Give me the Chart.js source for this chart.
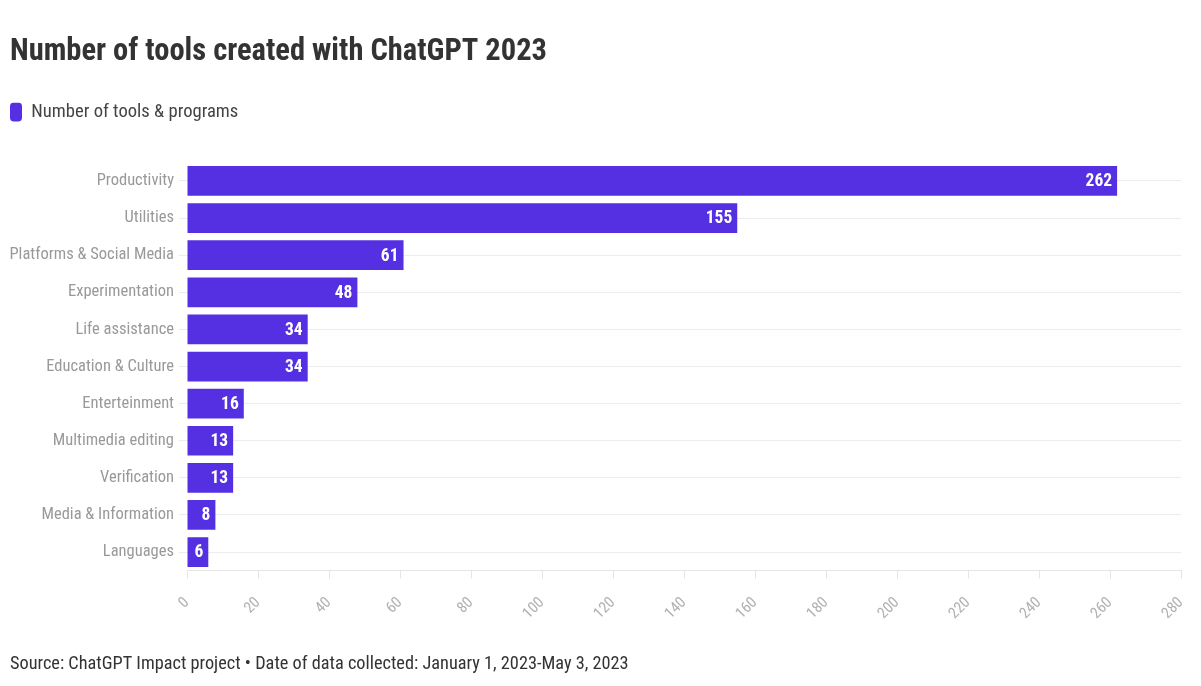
<!DOCTYPE html>
<html>
<head>
<meta charset="utf-8">
<script src="https://cdn.jsdelivr.net/npm/chart.js@4.4.0/dist/chart.umd.min.js"></script>
<style>
  html, body { margin: 0; padding: 0; background: #fff; }
  #wrap { position: relative; width: 1201px; height: 686px; }
</style>
</head>
<body>
<div id="wrap"><canvas id="toolsChart" width="1201" height="686"></canvas></div>
<script>
const categories = [
    'Productivity', 'Utilities', 'Platforms & Social Media', 'Experimentation',
    'Life assistance', 'Education & Culture', 'Enterteinment', 'Multimedia editing',
    'Verification', 'Media & Information', 'Languages'
];
const toolCounts = [262, 155, 61, 48, 34, 34, 16, 13, 13, 8, 6];
const seriesName = 'Number of tools & programs';
const xTicks = [0, 20, 40, 60, 80, 100, 120, 140, 160, 180, 200, 220, 240, 260, 280];

const FONT = '"Roboto Condensed", "Liberation Sans", sans-serif';
const barColor = '#5530e3';

// white value labels at the end of each bar
const valueLabels = {
    id: 'valueLabels',
    afterDatasetsDraw(chart) {
        const ctx = chart.ctx;
        const meta = chart.getDatasetMeta(0);
        ctx.save();
        ctx.font = 'bold 17.5px ' + FONT;
        ctx.fillStyle = '#ffffff';
        ctx.textAlign = 'right';
        ctx.textBaseline = 'middle';
        meta.data.forEach((bar, i) => {
            ctx.fillText(String(toolCounts[i]), bar.x - 5, bar.y + 1);
        });
        ctx.restore();
    }
};

// extra room between the legend and the plot (labels.padding would also shift it right)
const legendGap = {
    id: 'legendGap',
    beforeUpdate(chart) {
        const lg = chart.legend;
        if (lg && !lg._gapPatched) {
            const fit = lg.fit.bind(lg);
            lg.fit = function () {
                fit();
                this.height += 31;
            };
            lg._gapPatched = true;
        }
    }
};

const ctx = document.getElementById('toolsChart');

new Chart(ctx, {
    type: 'bar',
    data: {
        labels: categories,
        datasets: [{
            label: seriesName,
            data: toolCounts,
            backgroundColor: barColor,
            borderWidth: 0,
            categoryPercentage: 0.9,
            barPercentage: 0.89
        }]
    },
    options: {
        indexAxis: 'y',
        responsive: false,
        animation: false,
        layout: {
            padding: { left: 10, right: 20, top: 0, bottom: 0 }
        },
        plugins: {
            title: {
                display: true,
                text: 'Number of tools created with ChatGPT 2023',
                align: 'start',
                color: '#333333',
                font: { family: FONT, size: 30.5, weight: 'bold', lineHeight: 0.8 },
                padding: { top: 40, bottom: 38 }
            },
            legend: {
                display: true,
                align: 'start',
                labels: {
                    color: '#444444',
                    font: { family: FONT, size: 18.6 },
                    boxWidth: 12,
                    boxHeight: 19,
                    useBorderRadius: true,
                    borderRadius: 4,
                    padding: 0
                }
            },
            subtitle: {
                display: true,
                position: 'bottom',
                align: 'start',
                text: 'Source: ChatGPT Impact project \u2022 Date of data collected: January 1, 2023-May 3, 2023',
                color: '#333333',
                font: { family: FONT, size: 18.3 },
                padding: { top: 15, bottom: 11 }
            },
            tooltip: { enabled: false }
        },
        scales: {
            x: {
                min: 0,
                max: 280,
                afterBuildTicks(scale) {
                    scale.ticks = xTicks.map(v => ({ value: v }));
                },
                afterFit(scale) {
                    scale.paddingRight = 0;
                },
                grid: {
                    display: true,
                    drawOnChartArea: false,
                    drawTicks: true,
                    tickLength: 8,
                    color: '#e6e6e6'
                },
                border: { display: true, color: '#e6e6e6' },
                ticks: {
                    color: '#b0b0b0',
                    font: { family: FONT, size: 15.5 },
                    minRotation: 45,
                    maxRotation: 45,
                    padding: 15
                }
            },
            y: {
                afterFit(scale) {
                    scale.width = 177;
                },
                grid: {
                    display: true,
                    offset: false,
                    drawOnChartArea: true,
                    drawTicks: true,
                    tickLength: 8,
                    color: '#ececec'
                },
                border: { display: false },
                ticks: {
                    color: '#999999',
                    font: { family: FONT, size: 16.5 },
                    padding: 5
                }
            }
        }
    },
    plugins: [valueLabels, legendGap]
});
</script>
</body>
</html>
